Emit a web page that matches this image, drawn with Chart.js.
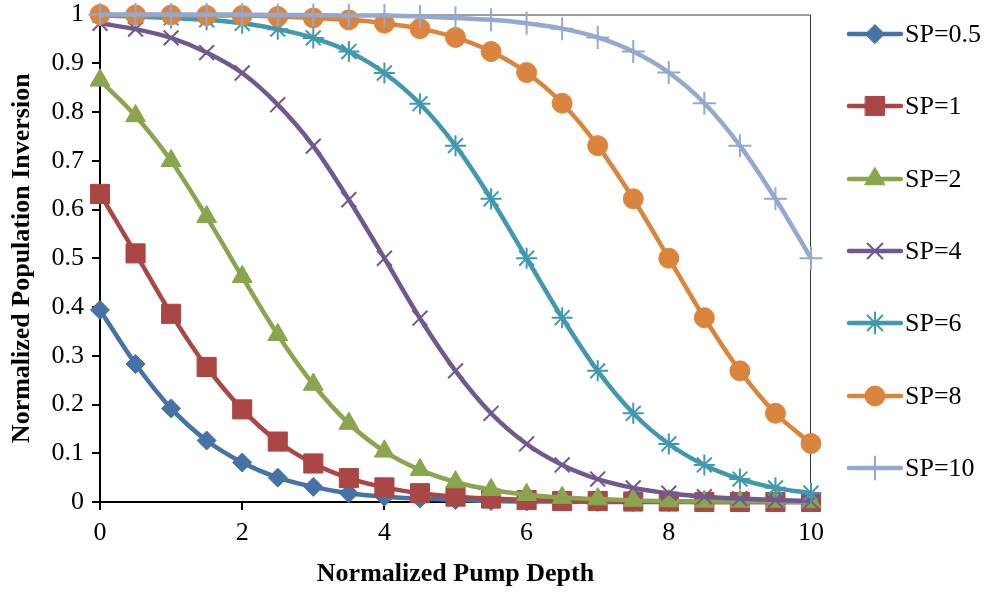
<!DOCTYPE html>
<html><head><meta charset="utf-8">
<script src="https://cdn.jsdelivr.net/npm/chart.js@4.4.1/dist/chart.umd.min.js"></script>
<style>html,body{margin:0;padding:0;background:#fff}#wrap{width:988px;height:594px}</style>
</head><body><div id="wrap"><canvas id="c" width="988" height="594"></canvas></div>
<script>
const depth = [0,0.5,1,1.5,2,2.5,3,3.5,4,4.5,5,5.5,6,6.5,7,7.5,8,8.5,9,9.5,10];
const seriesNames = ["SP=0.5","SP=1","SP=2","SP=4","SP=6","SP=8","SP=10"];
const sp05 = [0.394,0.283,0.192,0.126,0.081,0.050,0.031,0.018,0.011,0.007,0.004,0.002,0.001,0.001,0,0,0,0,0,0,0];
const sp1  = [0.632,0.510,0.386,0.277,0.190,0.124,0.079,0.049,0.030,0.018,0.011,0.007,0.004,0.002,0.002,0.001,0.001,0,0,0,0];
const sp2  = [0.865,0.792,0.700,0.585,0.462,0.343,0.241,0.161,0.104,0.066,0.041,0.025,0.015,0.009,0.006,0.003,0.002,0.001,0.001,0.001,0];
const sp4  = [0.982,0.970,0.952,0.922,0.880,0.815,0.730,0.620,0.500,0.377,0.269,0.182,0.119,0.076,0.047,0.029,0.018,0.011,0.007,0.004,0.002];
const sp6  = [0.998,0.996,0.993,0.989,0.982,0.970,0.952,0.924,0.880,0.817,0.731,0.622,0.500,0.378,0.269,0.182,0.119,0.076,0.047,0.029,0.018];
const sp8  = [1.000,0.999,0.999,0.998,0.998,0.996,0.993,0.989,0.982,0.971,0.953,0.924,0.881,0.818,0.731,0.622,0.500,0.378,0.269,0.182,0.120];
const sp10 = [1.000,1.000,1.000,1.000,1.000,0.999,0.999,0.998,0.998,0.996,0.993,0.989,0.982,0.971,0.953,0.924,0.881,0.818,0.731,0.622,0.500];
const seriesValues = [sp05, sp1, sp2, sp4, sp6, sp8, sp10];
const xTickValues = [0,2,4,6,8,10];
const yTickValues = [0,0.1,0.2,0.3,0.4,0.5,0.6,0.7,0.8,0.9,1];

const colors = ["#4572A7","#AA4643","#89A54E","#71588F","#4198AF","#DB843D","#93A9CF"];
const styles = ["rectRot","rect","triangle","crossRot","star","circle","cross"];
const radii  = [9.5,13.5,11.5,10.5,10.5,10,11.5];
const pbw    = [1,1,1,2,2,1,2];

const FONT = "'Liberation Serif','Times New Roman',serif";

const datasets = seriesNames.map((name,i)=>({
  label: name,
  data: depth.map((x,j)=>({x:x, y:seriesValues[i][j]})),
  borderColor: colors[i],
  backgroundColor: colors[i],
  borderWidth: 4.5,
  pointStyle: styles[i],
  pointRadius: radii[i],
  pointBorderWidth: pbw[i],
  pointBorderColor: colors[i],
  pointBackgroundColor: colors[i],
  cubicInterpolationMode: 'monotone',
  clip: false,
  order: seriesNames.length - i
}));

const frame = {
  id:'frame',
  beforeDatasetsDraw(chart){
    const {ctx, chartArea:a} = chart;
    ctx.save();
    ctx.strokeStyle = '#3a3a3a';
    ctx.lineWidth = 1;
    ctx.beginPath();
    ctx.moveTo(a.left, a.top+0.5);
    ctx.lineTo(a.right-0.5, a.top+0.5);
    ctx.lineTo(a.right-0.5, a.bottom);
    ctx.stroke();
    ctx.restore();
  }
};

const legendPlugin = {
  id:'customLegend',
  afterDraw(chart){
    const ctx = chart.ctx;
    const ys = [34,106,179,251,323,396,468];
    chart.data.datasets.forEach((ds,i)=>{
      const y = ys[i];
      ctx.save();
      ctx.strokeStyle = ds.borderColor;
      ctx.lineWidth = 4.5;
      ctx.lineCap = 'round';
      ctx.beginPath();
      ctx.moveTo(849, y); ctx.lineTo(901, y);
      ctx.stroke();
      ctx.fillStyle = ds.pointBackgroundColor;
      ctx.strokeStyle = ds.pointBorderColor;
      ctx.lineWidth = ds.pointBorderWidth;
      Chart.helpers.drawPoint(ctx, {pointStyle: ds.pointStyle, radius: ds.pointRadius, borderWidth: ds.pointBorderWidth, rotation: 0}, 875, y);
      ctx.fillStyle = '#000';
      ctx.font = "26px " + FONT;
      ctx.textAlign = 'left';
      ctx.textBaseline = 'middle';
      ctx.fillText(ds.label, 905, y+1);
      ctx.restore();
    });
  }
};

new Chart(document.getElementById('c'), {
  type: 'line',
  data: { datasets },
  plugins: [frame, legendPlugin],
  options: {
    responsive: false,
    animation: false,
    devicePixelRatio: 1,
    layout: { padding: { left: 0, right: 177, top: 10, bottom: 0 } },
    plugins: { legend: { display: false }, tooltip: { enabled: false } },
    scales: {
      x: {
        type: 'linear', min: 0, max: 10,
        afterBuildTicks(s){ s.ticks = xTickValues.map(v=>({value:v})); },
        afterFit(s){ s.height = 92; s.paddingLeft = 0; s.paddingRight = 0; },
        grid: { drawOnChartArea: false, drawTicks: true, tickLength: 8, color: '#000', lineWidth: 2 },
        border: { display: true, color: '#000', width: 2 },
        ticks: { color: '#000', font: { family: FONT, size: 26 }, padding: 8, maxRotation: 0 },
        title: { display: true, text: 'Normalized Pump Depth', color: '#000', font: { family: FONT, size: 26, weight: 'bold' }, padding: { top: 4, bottom: 4 } }
      },
      y: {
        type: 'linear', min: 0, max: 1,
        afterBuildTicks(s){ s.ticks = yTickValues.map(v=>({value:v})); },
        afterFit(s){ s.width = 100; s.paddingTop = 0; s.paddingBottom = 0; },
        grid: { drawOnChartArea: false, drawTicks: true, tickLength: 8, color: '#000', lineWidth: 2 },
        border: { display: true, color: '#000', width: 2 },
        ticks: { color: '#000', font: { family: FONT, size: 26 }, padding: 8, callback: v => String(Math.round(v*10)/10) },
        title: { display: true, text: 'Normalized Population Inversion', color: '#000', font: { family: FONT, size: 26, weight: 'bold' }, padding: { top: 7, bottom: 0 } }
      }
    }
  }
});
</script>
</body></html>
